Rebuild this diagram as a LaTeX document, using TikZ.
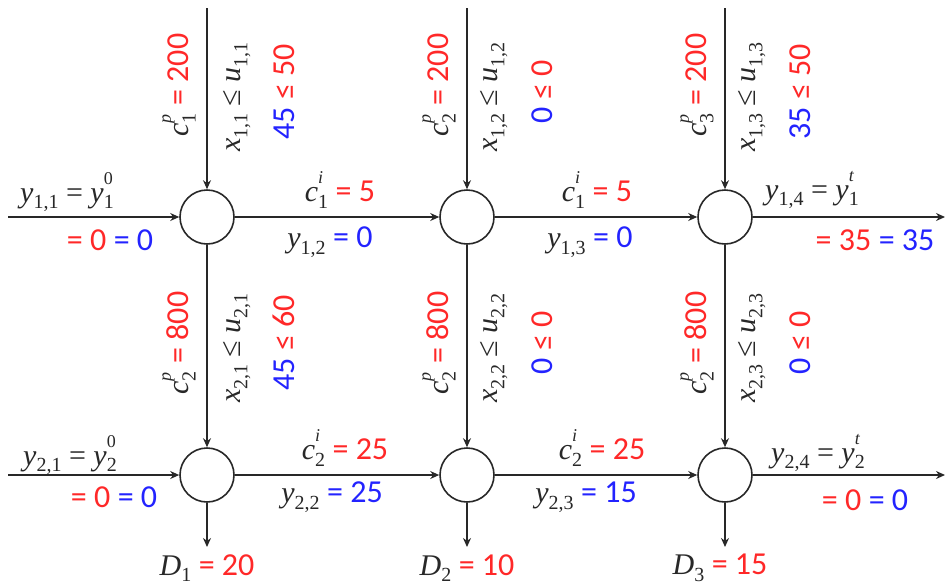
\documentclass[tikz,border=0pt]{standalone}
\usepackage{fontspec}
\setmainfont{Liberation Serif}
\newfontfamily\numf{Carlito}
\usetikzlibrary{arrows.meta}
\definecolor{myred}{RGB}{255,40,40}
\definecolor{myblue}{RGB}{35,35,255}
\definecolor{ink}{RGB}{40,40,40}
\newcommand\subx[1]{\raisebox{-0.22em}{\fontsize{20}{22}\selectfont #1}}
\newcommand\supx[1]{\raisebox{0.6em}{\fontsize{18}{20}\selectfont #1}}
\newcommand\vs[2]{\textit{#1}\subx{#2}}
\newcommand\vsb[3]{\textit{#1}\makebox[0pt][l]{\supx{#3}}\subx{#2}}
\newcommand\rd[1]{{\numf\fontsize{32}{36}\selectfont\color{myred}#1}}
\newcommand\bl[1]{{\numf\fontsize{32}{36}\selectfont\color{myblue}#1}}
\begin{document}
\begin{tikzpicture}[x=1pt,y=-1pt,
  circ/.style={circle,draw=ink,line width=1.6pt,minimum size=54pt,inner sep=0pt},
  flow/.style={draw=ink,line width=1.6pt,-{Stealth[length=9pt,width=8pt]}},
  lbl/.style={inner sep=0pt,text=ink,font=\fontsize{30}{34}\selectfont},
  vl/.style={lbl,rotate=90}]
\useasboundingbox (0,0) rectangle (947,587);
% nodes
\foreach \c/\x in {1/207,2/467,3/725}{
  \node[circ] (a\c) at (\x,217) {};
  \node[circ] (b\c) at (\x,475) {};
  \coordinate (t\c) at (\x,8);
  \coordinate (d\c) at (\x,547);
}
\coordinate (la) at (8,217);
\coordinate (lb) at (8,475);
\coordinate (ra) at (945,217);
\coordinate (rb) at (945,475);
% connectors
\foreach \c in {1,2,3}{
  \draw[flow] (t\c) -- (a\c);
  \draw[flow] (a\c) -- (b\c);
  \draw[flow] (b\c) -- (d\c);
}
\draw[flow] (la) -- (a1);
\draw[flow] (a1) -- (a2);
\draw[flow] (a2) -- (a3);
\draw[flow] (a3) -- (ra);
\draw[flow] (lb) -- (b1);
\draw[flow] (b1) -- (b2);
\draw[flow] (b2) -- (b3);
\draw[flow] (b3) -- (rb);
% vertical labels row 1
\node[vl] (p11) at (179,85) {\vsb{c}{1}{\itshape p} \rd{= 200}};
\node[vl] (x11) at (237,97) {\vs{x}{1,1} ≤ \vs{u}{1,1}};
\node[vl] (v11) at (284,92) {\bl{45} \rd{≤ 50}};
\node[vl] (p12) at (439,85) {\vsb{c}{2}{\itshape p} \rd{= 200}};
\node[vl] (x12) at (494,97) {\vs{x}{1,2} ≤ \vs{u}{1,2}};
\node[vl] (v12) at (542,92) {\bl{0} \rd{≤ 0}};
\node[vl] (p13) at (697,85) {\vsb{c}{3}{\itshape p} \rd{= 200}};
\node[vl] (x13) at (752,97) {\vs{x}{1,3} ≤ \vs{u}{1,3}};
\node[vl] (v13) at (800,92) {\bl{35} \rd{≤ 50}};
% vertical labels row 2
\node[vl] (p21) at (179,343) {\vsb{c}{2}{\itshape p} \rd{= 800}};
\node[vl] (x21) at (237,348) {\vs{x}{2,1} ≤ \vs{u}{2,1}};
\node[vl] (v21) at (284,343) {\bl{45} \rd{≤ 60}};
\node[vl] (p22) at (439,343) {\vsb{c}{2}{\itshape p} \rd{= 800}};
\node[vl] (x22) at (494,348) {\vs{x}{2,2} ≤ \vs{u}{2,2}};
\node[vl] (v22) at (542,343) {\bl{0} \rd{≤ 0}};
\node[vl] (p23) at (697,343) {\vsb{c}{2}{\itshape p} \rd{= 800}};
\node[vl] (x23) at (752,348) {\vs{x}{2,3} ≤ \vs{u}{2,3}};
\node[vl] (v23) at (800,343) {\bl{0} \rd{≤ 0}};
% horizontal labels row 1
\node[lbl] (h10) at (67,192) {\vs{y}{1,1} = \vsb{y}{1}{0}};
\node[lbl] (h10b) at (110,240) {\rd{= 0} \bl{= 0}};
\node[lbl] (h11) at (340,190) {\vsb{c}{1}{\itshape i} \rd{= 5}};
\node[lbl] (h11b) at (330,242) {\vs{y}{1,2} \bl{= 0}};
\node[lbl] (h12) at (597,190) {\vsb{c}{1}{\itshape i} \rd{= 5}};
\node[lbl] (h12b) at (590,242) {\vs{y}{1,3} \bl{= 0}};
\node[lbl] (h13) at (812,190) {\vs{y}{1,4} = \vsb{y}{1}{\itshape t}};
\node[lbl] (h13b) at (875,240) {\rd{= 35} \bl{= 35}};
% horizontal labels row 2
\node[lbl] (h20) at (70,455) {\vs{y}{2,1} = \vsb{y}{2}{0}};
\node[lbl] (h20b) at (114,497) {\rd{= 0} \bl{= 0}};
\node[lbl] (h21) at (345,448) {\vsb{c}{2}{\itshape i} \rd{= 25}};
\node[lbl] (h21b) at (332,497) {\vs{y}{2,2} \bl{= 25}};
\node[lbl] (h22) at (602,448) {\vsb{c}{2}{\itshape i} \rd{= 25}};
\node[lbl] (h22b) at (586,497) {\vs{y}{2,3} \bl{= 15}};
\node[lbl] (h23) at (818,453) {\vs{y}{2,4} = \vsb{y}{2}{\itshape t}};
\node[lbl] (h23b) at (865,500) {\rd{= 0} \bl{= 0}};
% demands
\node[lbl] (D1) at (207,568) {\vs{D}{1} \rd{= 20}};
\node[lbl] (D2) at (467,568) {\vs{D}{2} \rd{= 10}};
\node[lbl] (D3) at (720,568) {\vs{D}{3} \rd{= 15}};
\end{tikzpicture}
\end{document}
